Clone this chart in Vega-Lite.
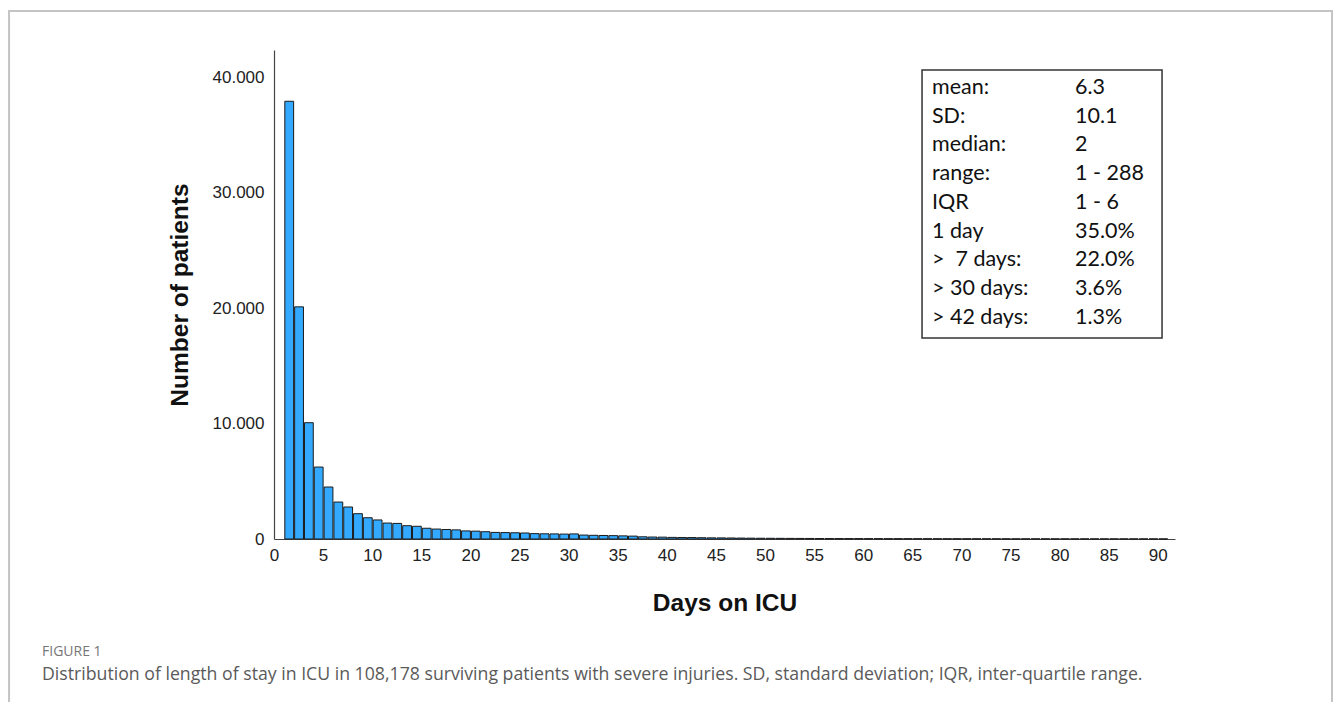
{
  "$schema": "https://vega.github.io/schema/vega-lite/v6.json",
  "width": 901,
  "height": 489,
  "autosize": {"type": "none"},
  "padding": {"left": 274, "top": 50, "right": 158, "bottom": 163},
  "background": "white",
  "config": {
    "view": {"stroke": null},
    "axis": {"grid": false, "ticks": false, "domainColor": "#444", "domainWidth": 1.2, "labelFont": "Liberation Sans", "labelFontSize": 17, "labelColor": "#222", "titleFont": "Liberation Sans", "titleFontSize": 24.5, "titleFontWeight": "bold", "titleColor": "#111"}
  },
  "title": {
    "text": "FIGURE 1",
    "subtitle": "Distribution of length of stay in ICU in 108,178 surviving patients with severe injuries. SD, standard deviation; IQR, inter-quartile range.",
    "orient": "bottom",
    "anchor": "start",
    "frame": "group",
    "dx": -232,
    "offset": -60,
    "font": "Open Sans",
    "fontSize": 14,
    "fontWeight": 500,
    "color": "#777",
    "subtitleFont": "Open Sans",
    "subtitleFontSize": 17.7,
    "subtitleColor": "#5a5a5a",
    "subtitlePadding": 7
  },
  "datasets": {
    "los": [
      {"day": 1, "day_end": 2, "n": 37900}, {"day": 2, "day_end": 3, "n": 20100}, {"day": 3, "day_end": 4, "n": 10070},
      {"day": 4, "day_end": 5, "n": 6230}, {"day": 5, "day_end": 6, "n": 4500}, {"day": 6, "day_end": 7, "n": 3200},
      {"day": 7, "day_end": 8, "n": 2770}, {"day": 8, "day_end": 9, "n": 2190}, {"day": 9, "day_end": 10, "n": 1840},
      {"day": 10, "day_end": 11, "n": 1650}, {"day": 11, "day_end": 12, "n": 1380}, {"day": 12, "day_end": 13, "n": 1350},
      {"day": 13, "day_end": 14, "n": 1150}, {"day": 14, "day_end": 15, "n": 1100}, {"day": 15, "day_end": 16, "n": 930},
      {"day": 16, "day_end": 17, "n": 860}, {"day": 17, "day_end": 18, "n": 820}, {"day": 18, "day_end": 19, "n": 790},
      {"day": 19, "day_end": 20, "n": 700}, {"day": 20, "day_end": 21, "n": 680}, {"day": 21, "day_end": 22, "n": 630},
      {"day": 22, "day_end": 23, "n": 570}, {"day": 23, "day_end": 24, "n": 555}, {"day": 24, "day_end": 25, "n": 540},
      {"day": 25, "day_end": 26, "n": 520}, {"day": 26, "day_end": 27, "n": 465}, {"day": 27, "day_end": 28, "n": 450},
      {"day": 28, "day_end": 29, "n": 440}, {"day": 29, "day_end": 30, "n": 425}, {"day": 30, "day_end": 31, "n": 440},
      {"day": 31, "day_end": 32, "n": 340}, {"day": 32, "day_end": 33, "n": 320}, {"day": 33, "day_end": 34, "n": 305},
      {"day": 34, "day_end": 35, "n": 290}, {"day": 35, "day_end": 36, "n": 270}, {"day": 36, "day_end": 37, "n": 250},
      {"day": 37, "day_end": 38, "n": 190}, {"day": 38, "day_end": 39, "n": 170}, {"day": 39, "day_end": 40, "n": 160},
      {"day": 40, "day_end": 41, "n": 140}, {"day": 41, "day_end": 42, "n": 130}, {"day": 42, "day_end": 43, "n": 125},
      {"day": 43, "day_end": 44, "n": 110}, {"day": 44, "day_end": 45, "n": 100}, {"day": 45, "day_end": 46, "n": 95},
      {"day": 46, "day_end": 47, "n": 88}, {"day": 47, "day_end": 48, "n": 80}, {"day": 48, "day_end": 49, "n": 72},
      {"day": 49, "day_end": 50, "n": 66}, {"day": 50, "day_end": 51, "n": 62}, {"day": 51, "day_end": 52, "n": 57},
      {"day": 52, "day_end": 53, "n": 53}, {"day": 53, "day_end": 54, "n": 49}, {"day": 54, "day_end": 55, "n": 46},
      {"day": 55, "day_end": 56, "n": 43}, {"day": 56, "day_end": 57, "n": 40}, {"day": 57, "day_end": 58, "n": 37},
      {"day": 58, "day_end": 59, "n": 35}, {"day": 59, "day_end": 60, "n": 33}, {"day": 60, "day_end": 61, "n": 31},
      {"day": 61, "day_end": 62, "n": 29}, {"day": 62, "day_end": 63, "n": 27}, {"day": 63, "day_end": 64, "n": 26},
      {"day": 64, "day_end": 65, "n": 24}, {"day": 65, "day_end": 66, "n": 23}, {"day": 66, "day_end": 67, "n": 22},
      {"day": 67, "day_end": 68, "n": 20}, {"day": 68, "day_end": 69, "n": 19}, {"day": 69, "day_end": 70, "n": 18},
      {"day": 70, "day_end": 71, "n": 17}, {"day": 71, "day_end": 72, "n": 16}, {"day": 72, "day_end": 73, "n": 15},
      {"day": 73, "day_end": 74, "n": 14}, {"day": 74, "day_end": 75, "n": 14}, {"day": 75, "day_end": 76, "n": 13},
      {"day": 76, "day_end": 77, "n": 12}, {"day": 77, "day_end": 78, "n": 12}, {"day": 78, "day_end": 79, "n": 11},
      {"day": 79, "day_end": 80, "n": 10}, {"day": 80, "day_end": 81, "n": 10}, {"day": 81, "day_end": 82, "n": 9},
      {"day": 82, "day_end": 83, "n": 9}, {"day": 83, "day_end": 84, "n": 8}, {"day": 84, "day_end": 85, "n": 8},
      {"day": 85, "day_end": 86, "n": 7}, {"day": 86, "day_end": 87, "n": 7}, {"day": 87, "day_end": 88, "n": 7},
      {"day": 88, "day_end": 89, "n": 6}, {"day": 89, "day_end": 90, "n": 6}, {"day": 90, "day_end": 91, "n": 6}
    ],
    "stats": [
      {"row": 1, "label": "mean:", "value": "6.3"},
      {"row": 2, "label": "SD:", "value": "10.1"},
      {"row": 3, "label": "median:", "value": "2"},
      {"row": 4, "label": "range:", "value": "1 - 288"},
      {"row": 5, "label": "IQR", "value": "1 - 6"},
      {"row": 6, "label": "1 day", "value": "35.0%"},
      {"row": 7, "label": ">\u00a0 7 days:", "value": "22.0%"},
      {"row": 8, "label": "> 30 days:", "value": "3.6%"},
      {"row": 9, "label": "> 42 days:", "value": "1.3%"}
    ]
  },
  "resolve": {"scale": {"y": "independent"}, "axis": {"y": "independent"}},
  "layer": [
    {
      "data": {"values": [{}]},
      "mark": {"type": "rect", "fill": null, "stroke": "#c4c4c4", "strokeWidth": 2, "clip": false},
      "encoding": {
        "x": {"datum": -26.98, "type": "quantitative", "scale": {"domain": [0, 91.75], "nice": false, "zero": false}},
        "x2": {"datum": 107.74},
        "y": {"datum": 45718, "type": "quantitative", "scale": {"domain": [0, 42340], "nice": false}, "axis": null},
        "y2": {"datum": -14287}
      }
    },
    {
      "data": {"name": "los"},
      "mark": {"type": "bar", "fill": "#33aaff", "stroke": "#1a1a1a", "strokeWidth": 1},
      "encoding": {
        "x": {
          "field": "day", "type": "quantitative", "bin": {"binned": true},
          "scale": {"domain": [0, 91.75], "nice": false, "zero": false},
          "axis": {"title": "Days on ICU", "values": [0, 5, 10, 15, 20, 25, 30, 35, 40, 45, 50, 55, 60, 65, 70, 75, 80, 85, 90], "labelPadding": 8, "titlePadding": 28, "labelFlush": false}
        },
        "x2": {"field": "day_end"},
        "y": {
          "field": "n", "type": "quantitative",
          "scale": {"domain": [0, 42340], "nice": false},
          "axis": {"title": "Number of patients", "values": [0, 10000, 20000, 30000, 40000], "labelExpr": "replace(format(datum.value, ','), ',', '.')", "labelPadding": 10, "titlePadding": 20}
        }
      }
    },
    {
      "data": {"values": [{}]},
      "mark": {"type": "rect", "fill": "white", "stroke": "#333", "strokeWidth": 1.5},
      "encoding": {
        "x": {"datum": 65.99, "type": "quantitative"},
        "x2": {"datum": 90.43},
        "y": {"datum": 0.374, "type": "quantitative", "scale": {"domain": [-0.322, 16.69], "nice": false, "zero": false, "reverse": true}, "axis": null},
        "y2": {"datum": 9.695}
      }
    },
    {
      "data": {"name": "stats"},
      "mark": {"type": "text", "align": "left", "baseline": "middle", "font": "Lato", "fontSize": 21.5, "color": "#111"},
      "encoding": {
        "x": {"datum": 67.0, "type": "quantitative"},
        "y": {"field": "row", "type": "quantitative", "scale": {"domain": [-0.322, 16.69], "nice": false, "zero": false, "reverse": true}, "axis": null},
        "text": {"field": "label"}
      }
    },
    {
      "data": {"name": "stats"},
      "mark": {"type": "text", "align": "left", "baseline": "middle", "font": "Lato", "fontSize": 21.5, "color": "#111"},
      "encoding": {
        "x": {"datum": 81.57, "type": "quantitative"},
        "y": {"field": "row", "type": "quantitative", "scale": {"domain": [-0.322, 16.69], "nice": false, "zero": false, "reverse": true}, "axis": null},
        "text": {"field": "value"}
      }
    }
  ]
}
